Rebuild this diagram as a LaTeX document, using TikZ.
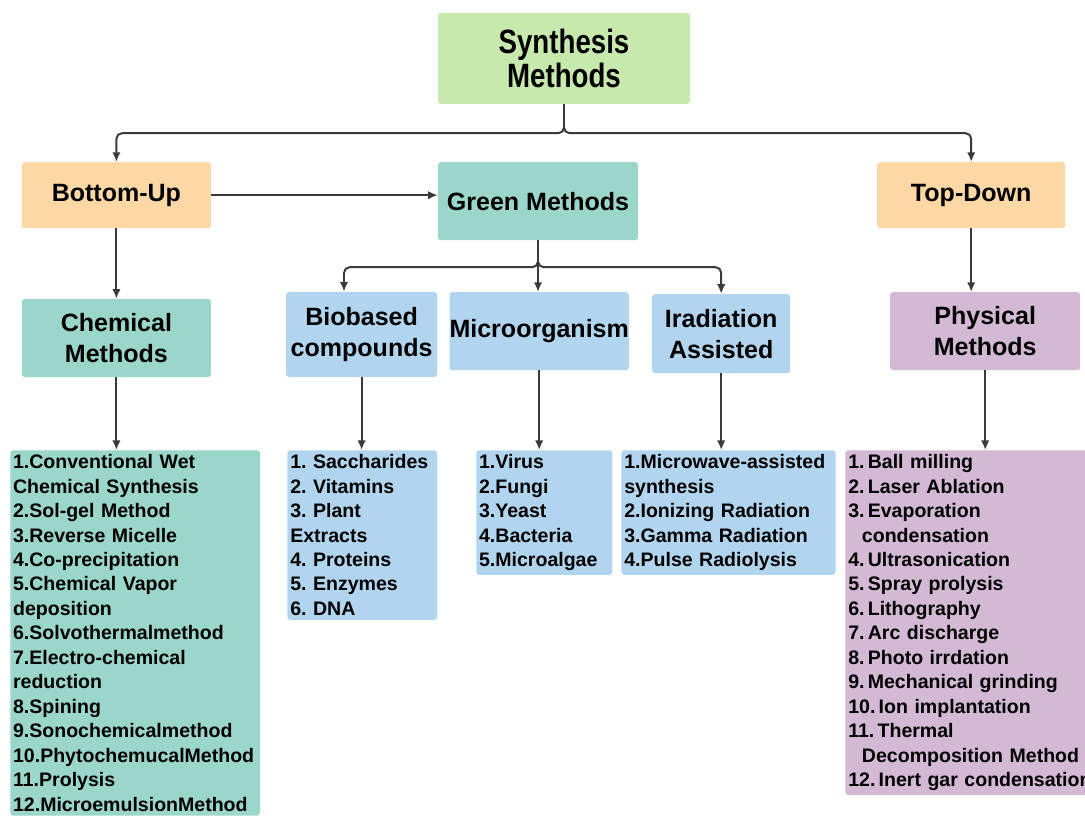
\documentclass[tikz,border=0pt]{standalone}
\usepackage{fontspec}
\setmainfont{Liberation Sans}
\newfontfamily\titlefont[FakeStretch=0.82]{Liberation Sans}
\usepackage{tikz}
\usepackage{xcolor}
\usetikzlibrary{positioning,arrows.meta,calc}
\definecolor{mylime}{RGB}{200,233,174}
\definecolor{mypeach}{RGB}{253,216,165}
\definecolor{myteal}{RGB}{155,214,202}
\definecolor{mysky}{RGB}{178,213,239}
\definecolor{mylilac}{RGB}{212,185,212}
\definecolor{myline}{RGB}{58,58,58}
\frenchspacing
\tikzset{
    head/.style={
        rectangle,
        rounded corners=2pt,
        inner sep=0pt,
        align=center,
        font=\fontsize{17.8}{22}\selectfont\bfseries
    },
    title/.style={
        head,
        fill=mylime,
        minimum width=6.3cm,
        minimum height=2.275cm,
        font=\titlefont\fontsize{24}{24.2}\selectfont\bfseries
    },
    list/.style={
        rectangle,
        rounded corners=2pt,
        anchor=north west,
        inner xsep=2pt,
        inner ysep=3pt,
        align=left,
        font=\fontsize{13.9}{17.4}\selectfont\bfseries
    },
    arr/.style={-{Latex[length=2.4mm,width=2.1mm]},line width=1.4pt,myline,rounded corners=4pt}
}
\begin{document}
\begin{tikzpicture}
\useasboundingbox (0,0) rectangle (27.125,-20.4);

\node[title] (synth) at (14.1,-1.46) {Synthesis\\Methods};

\node[head,fill=mypeach,minimum width=4.725cm,minimum height=1.65cm] (bottomup) at (2.91,-4.88) {Bottom-Up};
\node[head,fill=myteal,minimum width=5.0cm,minimum height=1.95cm] (green) at (13.45,-5.03) {Green Methods};
\node[head,fill=mypeach,minimum width=4.7cm,minimum height=1.65cm] (topdown) at (24.28,-4.88) {Top-Down};

\node[head,fill=myteal,minimum width=4.725cm,minimum height=1.95cm] (chem) at (2.91,-8.45) {Chemical\\Methods};
\node[head,fill=mysky,minimum width=3.775cm,minimum height=2.125cm] (bio) at (9.04,-8.36) {Biobased\\compounds};
\node[head,fill=mysky,minimum width=4.45cm,minimum height=1.95cm] (micro) at (13.48,-8.28) {Microorganism};
\node[head,fill=mysky,minimum width=3.45cm,minimum height=1.975cm] (irad) at (18.03,-8.34) {Iradiation\\Assisted};
\node[head,fill=mylilac,minimum width=4.75cm,minimum height=1.95cm] (phys) at (24.63,-8.28) {Physical\\Methods};

\node[list,fill=myteal,text width=6.1cm] (chemlist) at (0.25,-11.25) {%
1.Conventional Wet\\Chemical Synthesis\\2.Sol-gel Method\\3.Reverse Micelle\\
4.Co-precipitation\\5.Chemical Vapor\\deposition\\6.Solvothermalmethod\\
7.Electro-chemical\\reduction\\8.Spining\\9.Sonochemicalmethod\\
10.PhytochemucalMethod\\11.Prolysis\\12.MicroemulsionMethod};
\node[list,fill=mysky,text width=3.6cm] (biolist) at (7.18,-11.25) {%
1. Saccharides\\2. Vitamins\\3. Plant\\Extracts\\4. Proteins\\5. Enzymes\\6. DNA};
\node[list,fill=mysky,text width=3.26cm] (microlist) at (11.9,-11.25) {%
1.Virus\\2.Fungi\\3.Yeast\\4.Bacteria\\5.Microalgae};
\node[list,fill=mysky,text width=5.21cm] (iradlist) at (15.53,-11.25) {%
1.Microwave-assisted\\synthesis\\2.Ionizing Radiation\\3.Gamma Radiation\\4.Pulse Radiolysis};
\node[list,fill=mylilac,text width=6.1cm] (physlist) at (21.13,-11.25) {%
1.\,Ball milling\\2.\,Laser Ablation\\3.\,Evaporation\\\hspace*{0.7em}condensation\\
4.\,Ultrasonication\\5.\,Spray prolysis\\6.\,Lithography\\7.\,Arc discharge\\
8.\,Photo irrdation\\9.\,Mechanical grinding\\10.\,Ion implantation\\11.\,Thermal\\
\hspace*{0.7em}Decomposition Method\\\mbox{12.\,Inert gar condensation}};

\coordinate (split) at (14.1,-3.33);
\coordinate (gsplit) at (13.45,-6.68);

\draw[arr] (synth.south) -- (split) -| (bottomup.north);
\draw[arr] (synth.south) -- (split) -| (topdown.north);
\draw[arr] (bottomup.east) -- (bottomup.east -| green.west);

\draw[arr] (green.south) -- (gsplit) -| ([xshift=-0.44cm]bio.north);
\draw[arr] (green.south) -- (micro.north -| green.south);
\draw[arr] (green.south) -- (gsplit) -| (irad.north);

\draw[arr] (bottomup.south) -- (bottomup.south |- chem.north);
\draw[arr] (topdown.south) -- (topdown.south |- phys.north);

\draw[arr] (chem.south) -- (chem.south |- chemlist.north);
\draw[arr] (bio.south) -- (bio.south |- biolist.north);
\draw[arr] (micro.south) -- (micro.south |- microlist.north);
\draw[arr] (irad.south) -- (irad.south |- iradlist.north);
\draw[arr] (phys.south) -- (phys.south |- physlist.north);
\end{tikzpicture}
\end{document}
